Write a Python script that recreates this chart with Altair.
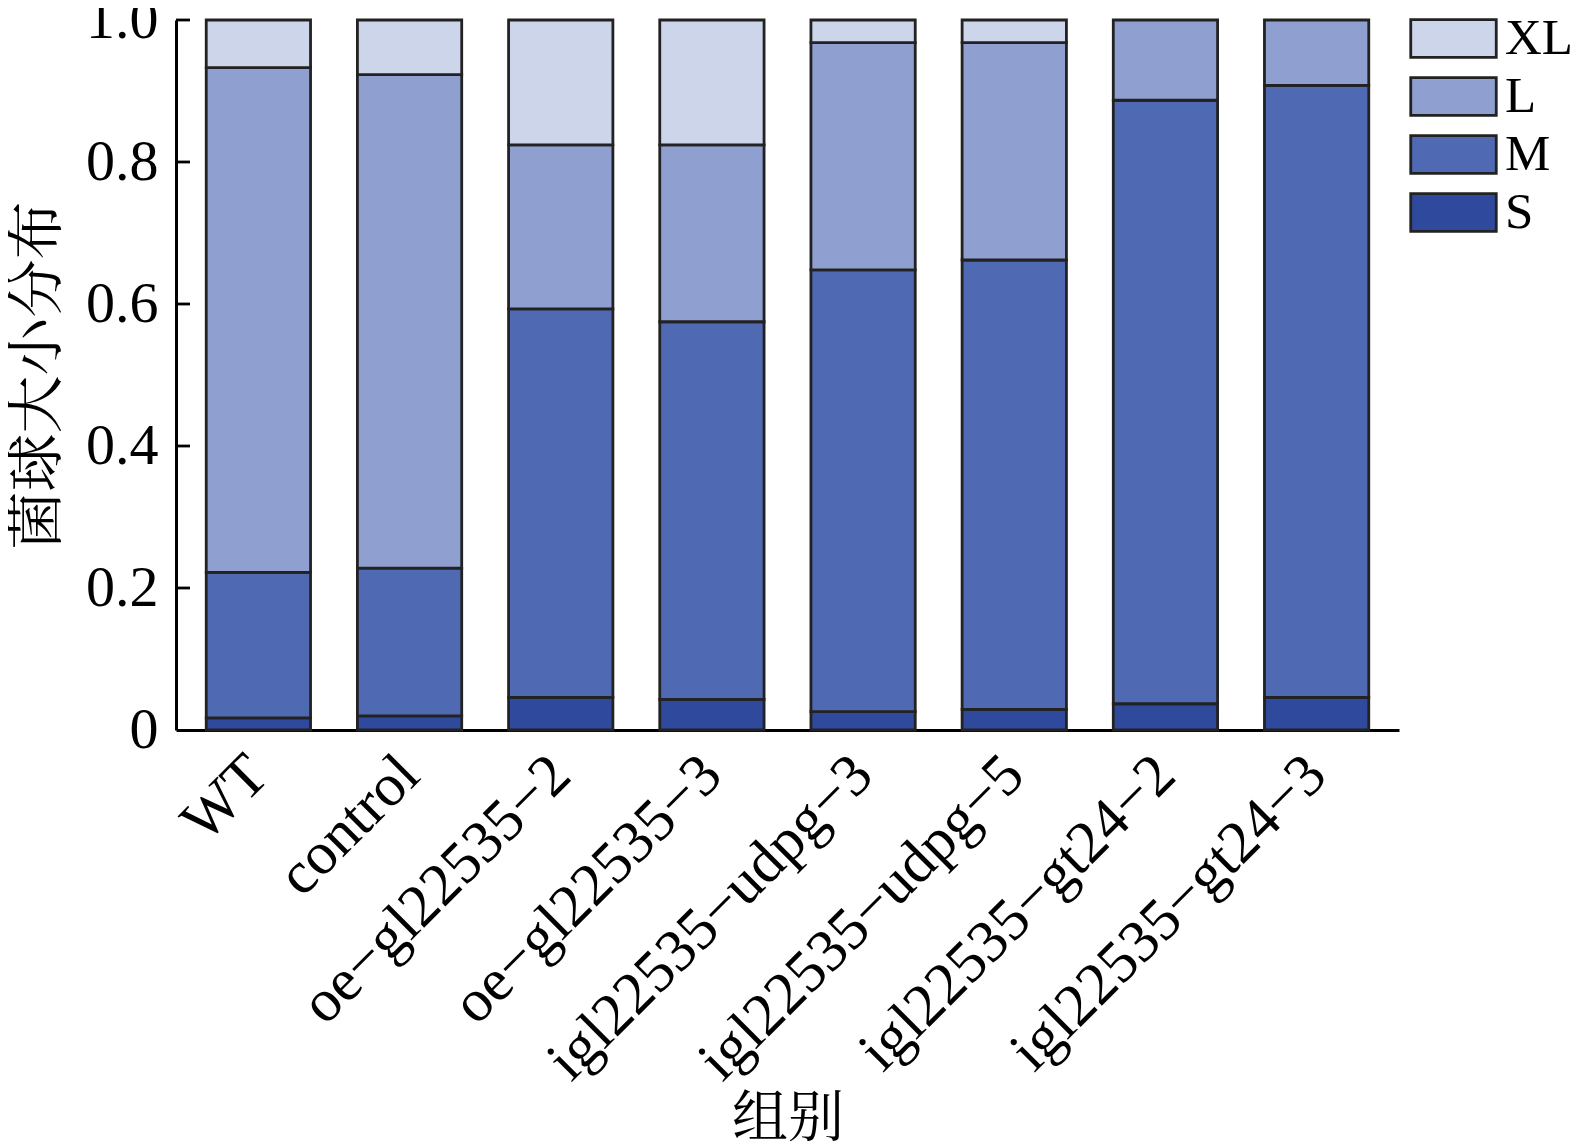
import altair as alt
import pandas as pd

categories = ["WT", "control", "oe−gl22535−2", "oe−gl22535−3",
              "igl22535−udpg−3", "igl22535−udpg−5", "igl22535−gt24−2", "igl22535−gt24−3"]
sizes = ["XL", "L", "M", "S"]
S_vals = [0.017, 0.020, 0.046, 0.043, 0.026, 0.029, 0.037, 0.046]
M_vals = [0.205, 0.208, 0.547, 0.532, 0.622, 0.633, 0.850, 0.862]
L_vals = [0.711, 0.695, 0.231, 0.249, 0.320, 0.306, 0.113, 0.092]
XL_vals = [0.067, 0.077, 0.176, 0.176, 0.032, 0.032, 0.000, 0.000]
colors = ["#cdd5eb", "#8fa0d0", "#4f6ab2", "#2f4a9c"]
y_ticks = [0.2, 0.4, 0.6, 0.8, 1.0]

series = {"S": S_vals, "M": M_vals, "L": L_vals, "XL": XL_vals}
stack_rank = {"S": 1, "M": 2, "L": 3, "XL": 4}
rows = []
for size, vals in series.items():
    for cat, v in zip(categories, vals):
        if v > 0:
            rows.append({"group": cat, "size": size, "value": v, "rank": stack_rank[size]})
df = pd.DataFrame(rows)
ticks_df = pd.DataFrame({"t": y_ticks})

FONT = "Liberation Serif, Noto Serif CJK SC, Noto Sans CJK SC"

bars = alt.Chart(df).mark_bar(stroke="#222222", strokeWidth=2.8, opacity=1).encode(
    x=alt.X("group:N", sort=categories, title="组别",
            scale=alt.Scale(paddingInner=0.31, paddingOuter=0.2),
            axis=alt.Axis(labelAngle=-45, labelAlign="right", labelBaseline="middle",
                          labelPadding=35, labelLimit=1000, labelFontSize=60,
                          ticks=False, domainColor="black", domainWidth=3,
                          titleY=361, titleBaseline="top", titleFontSize=56)),
    y=alt.Y("value:Q", stack="zero", title="菌球大小分布",
            scale=alt.Scale(domain=[0, 1], nice=False),
            axis=alt.Axis(values=[0, 0.2, 0.4, 0.6, 0.8, 1.0], ticks=False, grid=False,
                          labelExpr="datum.value == 0 ? '0' : format(datum.value, '.1f')",
                          labelPadding=18, labelFontSize=58, domainColor="black", domainWidth=3,
                          titlePadding=18, titleFontSize=58)),
    color=alt.Color("size:N", scale=alt.Scale(domain=sizes, range=colors),
                    legend=alt.Legend(title=None, orient="none", legendX=1252, legendY=-7,
                                      symbolType="M-2.274,-1H2.274V1H-2.274Z", symbolSize=1414,
                                      symbolStrokeColor="#222222", symbolStrokeWidth=2.8,
                                      symbolOpacity=1, labelFontSize=51, labelFont=FONT,
                                      labelOffset=26, rowPadding=6, labelColor="black")),
    order=alt.Order("rank:Q", sort="ascending"),
)

tick_rules = alt.Chart(ticks_df).mark_rule(color="black", strokeWidth=2.8).encode(
    y="t:Q", x=alt.value(0), x2=alt.value(14)
)

chart = alt.layer(bars, tick_rules).properties(
    width=1223, height=710,
    autosize=alt.AutoSizeParams(type="none"),
    padding={"left": 168, "top": 12, "right": 183, "bottom": 420},
).configure_view(stroke=None).configure_axis(
    labelFont=FONT, titleFont=FONT,
    labelColor="black", titleColor="black", titleFontWeight="normal",
)

chart.save("out.html", embed_options={"renderer": "svg", "actions": False})
